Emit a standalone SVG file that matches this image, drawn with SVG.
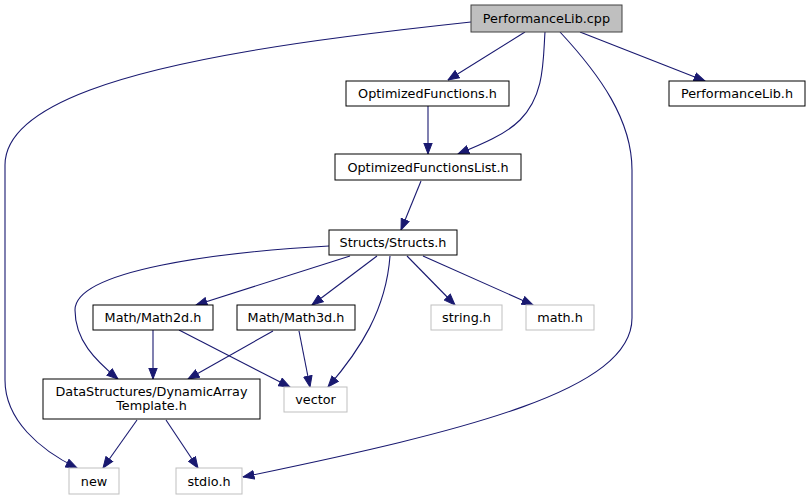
<svg xmlns="http://www.w3.org/2000/svg" width="811" height="500" viewBox="0 0 811 500">
<style>
  .node rect { fill: #ffffff; stroke: #000000; stroke-width: 1; }
  .node.root rect { fill: #bfbfbf; stroke: #404040; }
  .node.ext rect { stroke: #bfbfbf; }
  .node text { font-family: "DejaVu Sans", "Liberation Sans", sans-serif; font-size: 12.8px; fill: #000000; text-anchor: middle; }
  .edges path { fill: none; stroke: #191970; stroke-width: 1.1; marker-end: url(#arrow); }
</style>
<defs>
  <marker id="arrow" markerUnits="userSpaceOnUse" markerWidth="12" markerHeight="10" refX="11.5" refY="5" orient="auto">
    <path d="M0.5,0.8 L11.5,5 L0.5,9.2 Z" fill="#191970" stroke="#191970" stroke-width="1"/>
  </marker>
</defs>
<rect x="0" y="0" width="811" height="500" fill="#ffffff"/>
<g class="edges">
  <path d="M471,22 C350,35 290,44 250,51 C150,68 5,100 5,165 L5,380 C5,420 40,450 77,468"/>
  <path d="M525,32 L448,80"/>
  <path d="M545,32 C543,60 545,95 520,120 C505,135 480,145 458,154"/>
  <path d="M560,32 C600,75 632,120 632,170 L632,318 C632,390 470,430 243,477"/>
  <path d="M580,32 L705,81"/>
  <path d="M428,106 L428,154"/>
  <path d="M421,181 L401,230"/>
  <path d="M329,246 C220,252 75,270 75,310 C75,340 95,360 118,379"/>
  <path d="M350,256 L196,305"/>
  <path d="M377,256 L312,305"/>
  <path d="M390,256 C386,310 360,350 328,387"/>
  <path d="M407,256 L455,305"/>
  <path d="M423,256 L533,305"/>
  <path d="M153,330 L153,379"/>
  <path d="M179,330 L290,387"/>
  <path d="M273,331 L188,379"/>
  <path d="M299,331 L310,387"/>
  <path d="M137,420 L103,468"/>
  <path d="M166,420 L198,468"/>
</g>
<g id="node_performancelib_cpp" class="node root">
  <rect x="471" y="5" width="151" height="27"/>
  <text x="546.5" y="23">PerformanceLib.cpp</text>
</g>
<g id="node_optimizedfunctions_h" class="node">
  <rect x="346" y="81" width="163" height="25"/>
  <text x="427.5" y="98">OptimizedFunctions.h</text>
</g>
<g id="node_performancelib_h" class="node">
  <rect x="669" y="81" width="136" height="25"/>
  <text x="737" y="98">PerformanceLib.h</text>
</g>
<g id="node_optimizedfunctionslist_h" class="node">
  <rect x="335" y="154" width="186" height="26"/>
  <text x="428" y="171.5">OptimizedFunctionsList.h</text>
</g>
<g id="node_structs_h" class="node">
  <rect x="329" y="230" width="128" height="25"/>
  <text x="393" y="247">Structs/Structs.h</text>
</g>
<g id="node_math2d_h" class="node">
  <rect x="93" y="305" width="120" height="25"/>
  <text x="153" y="322">Math/Math2d.h</text>
</g>
<g id="node_math3d_h" class="node">
  <rect x="237" y="305" width="118" height="25"/>
  <text x="296" y="322">Math/Math3d.h</text>
</g>
<g id="node_string_h" class="node ext">
  <rect x="431" y="305" width="71" height="25"/>
  <text x="466.5" y="322">string.h</text>
</g>
<g id="node_math_h" class="node ext">
  <rect x="526" y="305" width="68" height="25"/>
  <text x="560" y="322">math.h</text>
</g>
<g id="node_dynamicarraytemplate_h" class="node">
  <rect x="43" y="379" width="217" height="40"/>
  <text x="151.5" y="395.5">DataStructures/DynamicArray</text>
  <text x="151.5" y="410">Template.h</text>
</g>
<g id="node_vector" class="node ext">
  <rect x="284" y="387" width="63" height="25"/>
  <text x="315.5" y="404">vector</text>
</g>
<g id="node_new" class="node ext">
  <rect x="69" y="468" width="50" height="26"/>
  <text x="94" y="485.5">new</text>
</g>
<g id="node_stdio_h" class="node ext">
  <rect x="176" y="468" width="66" height="26"/>
  <text x="209" y="485.5">stdio.h</text>
</g>
</svg>
